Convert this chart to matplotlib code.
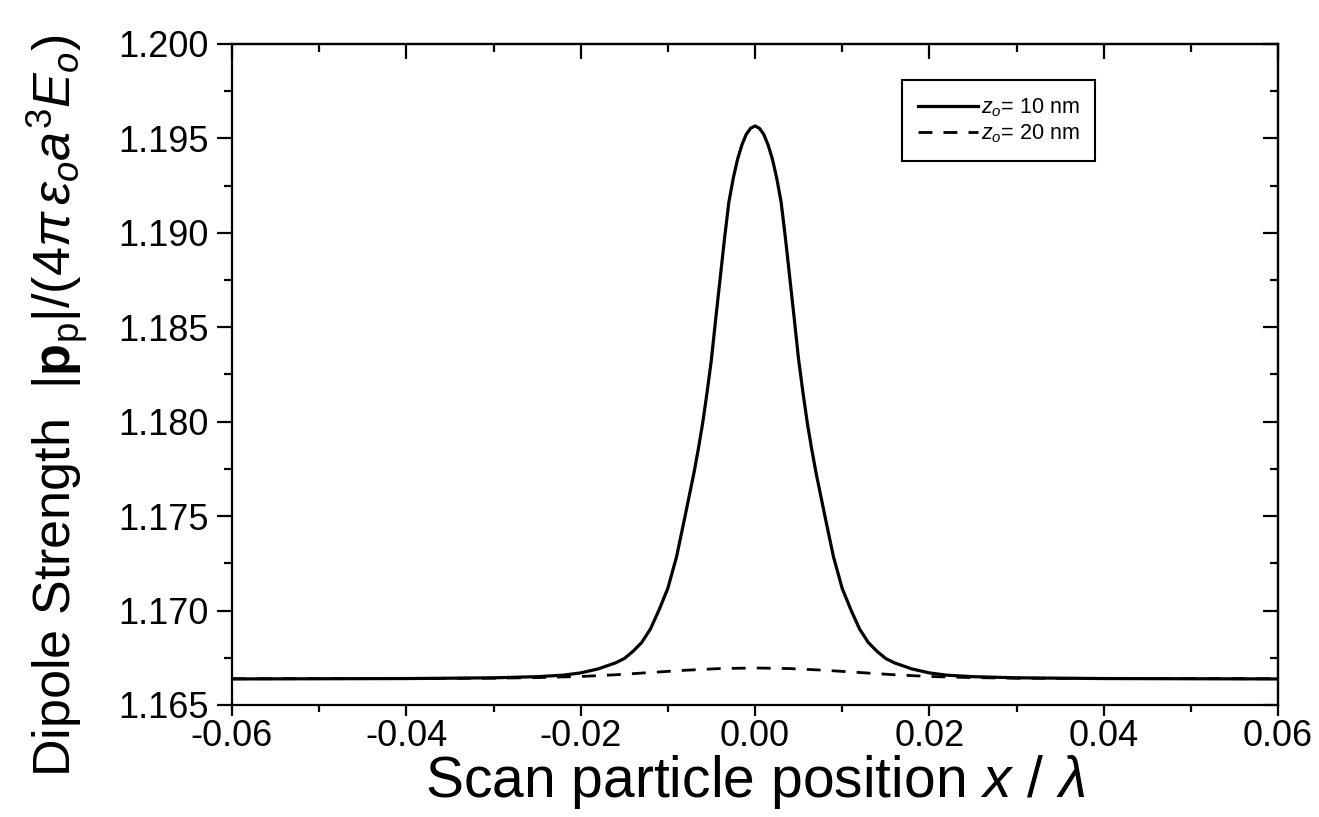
import matplotlib
matplotlib.use("Agg")
import matplotlib.pyplot as plt
import matplotlib.ticker as tic

plt.rcParams['font.family'] = ['Liberation Sans', 'DejaVu Sans']
plt.rcParams['mathtext.fontset'] = 'custom'
plt.rcParams['mathtext.rm'] = 'Liberation Sans'
plt.rcParams['mathtext.it'] = 'Liberation Sans:italic'
plt.rcParams['mathtext.bf'] = 'Liberation Sans:bold'
plt.rcParams['axes.unicode_minus'] = False

# scan position x / lambda (curves symmetric about 0)
x_pos = [0.0000, 0.0005, 0.0010, 0.0015, 0.0020, 0.0025, 0.0030, 0.0035,
         0.0040, 0.0045, 0.0050, 0.0055, 0.0060, 0.0065, 0.0070, 0.0080,
         0.0090, 0.0100, 0.0110, 0.0120, 0.0130, 0.0140, 0.0150, 0.0160,
         0.0180, 0.0200, 0.0220, 0.0250, 0.0300, 0.0400, 0.0600]
# z_o = 10 nm, right half
p_10nm = [1.19566, 1.19554, 1.19522, 1.19466, 1.19390, 1.19288, 1.19162,
          1.18969, 1.18758, 1.18547, 1.18330, 1.18155, 1.17994, 1.17856,
          1.17730, 1.17505, 1.17285, 1.17118, 1.17004, 1.16902, 1.16831,
          1.16784, 1.16746, 1.16723, 1.16691, 1.16670, 1.16658, 1.16650,
          1.16644, 1.16640, 1.16638]

x_dash = [0.000, 0.004, 0.008, 0.012, 0.016, 0.020, 0.025, 0.030, 0.040, 0.060]
# z_o = 20 nm, right half
p_20nm = [1.16696, 1.16693, 1.16684, 1.16672, 1.16660, 1.16651, 1.16645,
          1.16642, 1.16640, 1.16639]

x_ticks = [-0.06, -0.04, -0.02, 0.00, 0.02, 0.04, 0.06]
y_ticks = [1.165, 1.170, 1.175, 1.180, 1.185, 1.190, 1.195, 1.200]


def mirror(xs, ys):
    # build the full scan from the right half
    xx = [-v for v in xs[:0:-1]] + list(xs)
    yy = list(ys[:0:-1]) + list(ys)
    return xx, yy


fig = plt.figure(figsize=(13.19, 8.17), dpi=100)
ax = fig.add_axes([232 / 1319, 1 - 705 / 817, 1046 / 1319, 661 / 817])

xd, yd = mirror(x_dash, p_20nm)
ax.plot(xd, yd, color='black', lw=2.0, ls=(0, (5, 4)), label=r'$z_o$= 20 nm')
xs, ys = mirror(x_pos, p_10nm)
ax.plot(xs, ys, color='black', lw=2.3, solid_joinstyle='round',
        label=r'$z_o$= 10 nm')

ax.set_xlim(-0.06, 0.06)
ax.set_ylim(1.165, 1.200)
ax.set_xticks(x_ticks)
ax.set_yticks(y_ticks)
ax.xaxis.set_minor_locator(tic.MultipleLocator(0.01))
ax.yaxis.set_minor_locator(tic.MultipleLocator(0.0025))
ax.xaxis.set_major_formatter(tic.FormatStrFormatter('%.2f'))
ax.yaxis.set_major_formatter(tic.FormatStrFormatter('%.3f'))

for s in ax.spines.values():
    s.set_linewidth(1.6)

# left/bottom ticks point out, top/right point in
ax.tick_params(which='both', direction='out', top=False, right=False,
               width=1.6, labelsize=26)
ax.tick_params(axis='y', pad=6)
ax.tick_params(axis='x', pad=2)
ax.tick_params(which='major', length=11)
ax.tick_params(which='minor', length=6)
ax.tick_params(axis='x', which='major', length=8)
ax.tick_params(axis='x', which='minor', length=5)

ax2 = ax.secondary_xaxis('top')
ax2.set_xticks(x_ticks)
ax2.xaxis.set_minor_locator(tic.MultipleLocator(0.01))
ax2.tick_params(which='both', direction='in', labeltop=False, width=1.6)
ax2.tick_params(which='major', length=11)
ax2.tick_params(which='minor', length=6)
ax2.spines['top'].set_linewidth(1.6)
ax3 = ax.secondary_yaxis('right')
ax3.set_yticks(y_ticks)
ax3.yaxis.set_minor_locator(tic.MultipleLocator(0.0025))
ax3.tick_params(which='both', direction='in', labelright=False, width=1.6)
ax3.tick_params(which='major', length=11)
ax3.tick_params(which='minor', length=6)
ax3.spines['right'].set_linewidth(1.6)

ax.set_xlabel(r'Scan particle position $x\ /\ \lambda$', fontsize=41, va='bottom')
ax.xaxis.set_label_coords(0.5, -0.16)
ax.set_ylabel(r'Dipole Strength  $|\mathbf{p}_{\rm p}|/(4\pi\,\varepsilon_o a^3 E_o)$',
              fontsize=37.5)
ax.yaxis.set_label_coords(-0.136, 0.452)

handles, labels = ax.get_legend_handles_labels()
leg = ax.legend(handles[::-1], labels[::-1], loc='upper left',
                bbox_to_anchor=(0.6405, 0.945), fontsize=15.5, frameon=True,
                fancybox=False, handlelength=2.8, handletextpad=0.1,
                borderpad=0.75, labelspacing=0.15, borderaxespad=0)
leg.get_frame().set_edgecolor('black')
leg.get_frame().set_linewidth(1.5)
leg.get_frame().set_alpha(1)

fig.savefig('out.png', dpi=100)
